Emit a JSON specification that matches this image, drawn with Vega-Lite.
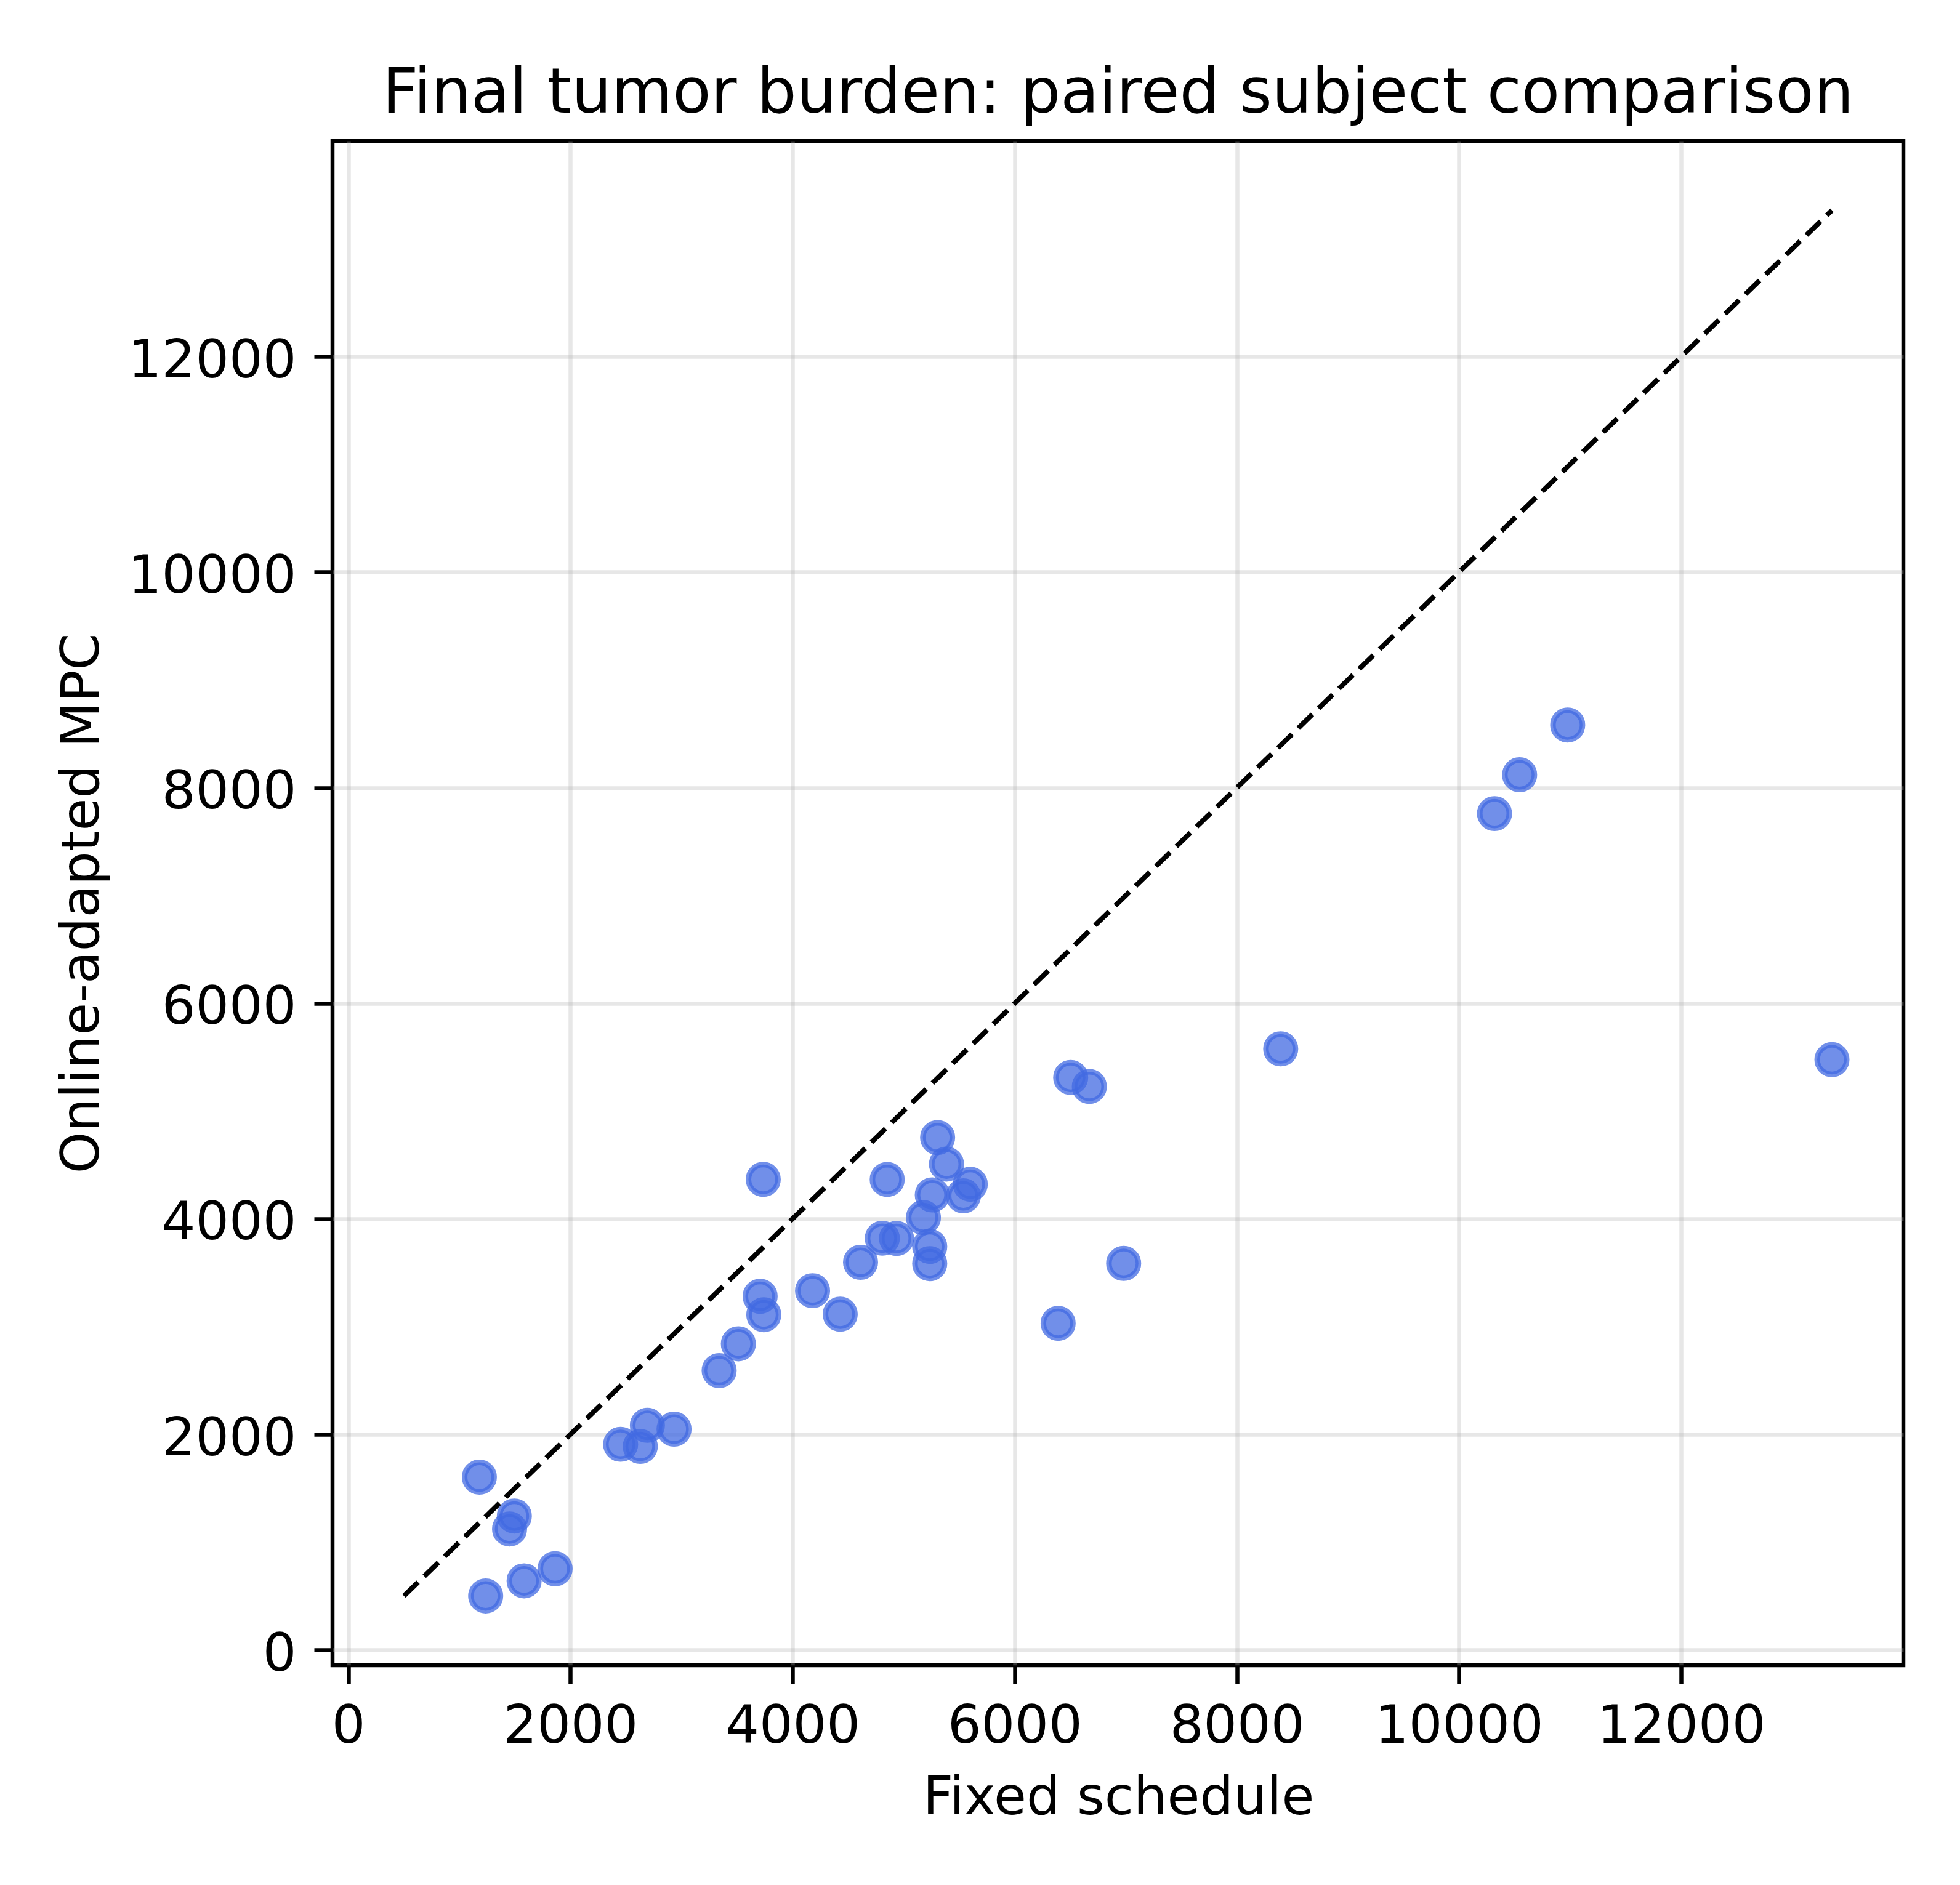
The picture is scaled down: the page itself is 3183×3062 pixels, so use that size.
{
  "$schema": "https://vega.github.io/schema/vega-lite/v6.json",
  "width": 2551,
  "height": 2476,
  "autosize": {"type": "none"},
  "padding": {"left": 540, "top": 229, "right": 92, "bottom": 357},
  "background": "white",
  "title": {
    "text": "Final tumor burden: paired subject comparison",
    "font": "DejaVu Sans",
    "fontSize": 102,
    "fontWeight": "normal",
    "color": "black",
    "anchor": "middle",
    "baseline": "alphabetic",
    "offset": -56,
    "limit": 0
  },
  "config": {
    "view": {"stroke": "black", "strokeWidth": 6.5},
    "axis": {
      "domain": false,
      "ticks": true,
      "tickColor": "black",
      "tickWidth": 6.5,
      "tickSize": 30,
      "labelFont": "DejaVu Sans",
      "labelFontSize": 86,
      "labelColor": "black",
      "labelLimit": 0,
      "labelFlush": false,
      "labelOverlap": false,
      "labelBound": false,
      "grid": true,
      "gridColor": "#b0b0b0",
      "gridOpacity": 0.3,
      "gridWidth": 6.5,
      "titleFont": "DejaVu Sans",
      "titleFontSize": 86,
      "titleFontWeight": "normal",
      "titleColor": "black",
      "titleLimit": 0
    }
  },
  "datasets": {
    "subjects": [
      {"fixed": 1180, "mpc": 1603},
      {"fixed": 1495, "mpc": 1242},
      {"fixed": 1452, "mpc": 1122},
      {"fixed": 1237, "mpc": 501},
      {"fixed": 1583, "mpc": 641},
      {"fixed": 1862, "mpc": 753},
      {"fixed": 2452, "mpc": 1908},
      {"fixed": 2693, "mpc": 2084},
      {"fixed": 2629, "mpc": 1888},
      {"fixed": 2933, "mpc": 2048},
      {"fixed": 3339, "mpc": 2592},
      {"fixed": 3512, "mpc": 2840},
      {"fixed": 3708, "mpc": 3281},
      {"fixed": 3741, "mpc": 3110},
      {"fixed": 3736, "mpc": 4366},
      {"fixed": 4180, "mpc": 3333},
      {"fixed": 4429, "mpc": 3115},
      {"fixed": 4612, "mpc": 3596},
      {"fixed": 4808, "mpc": 3820},
      {"fixed": 4936, "mpc": 3818},
      {"fixed": 4852, "mpc": 4365},
      {"fixed": 5178, "mpc": 4012},
      {"fixed": 5258, "mpc": 4222},
      {"fixed": 5306, "mpc": 4754},
      {"fixed": 5386, "mpc": 4508},
      {"fixed": 5235, "mpc": 3744},
      {"fixed": 5235, "mpc": 3584},
      {"fixed": 5538, "mpc": 4213},
      {"fixed": 5600, "mpc": 4321},
      {"fixed": 6504, "mpc": 5312},
      {"fixed": 6672, "mpc": 5228},
      {"fixed": 6981, "mpc": 3586},
      {"fixed": 6391, "mpc": 3030},
      {"fixed": 8395, "mpc": 5577},
      {"fixed": 10979, "mpc": 8582},
      {"fixed": 10546, "mpc": 8120},
      {"fixed": 10320, "mpc": 7760},
      {"fixed": 13358, "mpc": 5477}
    ],
    "identity": [
      {"v": 501},
      {"v": 13358}
    ]
  },
  "layer": [
    {
      "data": {"name": "subjects"},
      "mark": {
        "type": "point",
        "shape": "circle",
        "filled": true,
        "size": 2300,
        "fill": "#4169E1",
        "stroke": "#4169E1",
        "strokeWidth": 9,
        "fillOpacity": 0.75,
        "strokeOpacity": 0.75
      },
      "encoding": {
        "x": {
          "field": "fixed",
          "type": "quantitative",
          "scale": {"domain": [-142, 14001], "nice": false, "zero": false},
          "axis": {
            "title": "Fixed schedule",
            "values": [0, 2000, 4000, 6000, 8000, 10000, 12000],
            "format": "d",
            "labelBaseline": "alphabetic",
            "labelPadding": 95,
            "titleBaseline": "alphabetic",
            "titleX": 1276,
            "titleY": 241
          }
        },
        "y": {
          "field": "mpc",
          "type": "quantitative",
          "scale": {"domain": [-142, 14001], "nice": false, "zero": false},
          "axis": {
            "title": "Online-adapted MPC",
            "values": [0, 2000, 4000, 6000, 8000, 10000, 12000],
            "format": "d",
            "labelBaseline": "alphabetic",
            "labelOffset": 33,
            "labelPadding": 29,
            "titleAngle": 270,
            "titleBaseline": "alphabetic",
            "titleAlign": "center",
            "titleX": -381,
            "titleY": 1238
          }
        }
      }
    },
    {
      "data": {"name": "identity"},
      "mark": {
        "type": "line",
        "color": "black",
        "strokeWidth": 8,
        "strokeDash": [32, 14]
      },
      "encoding": {
        "x": {"field": "v", "type": "quantitative"},
        "y": {"field": "v", "type": "quantitative"}
      }
    }
  ]
}
